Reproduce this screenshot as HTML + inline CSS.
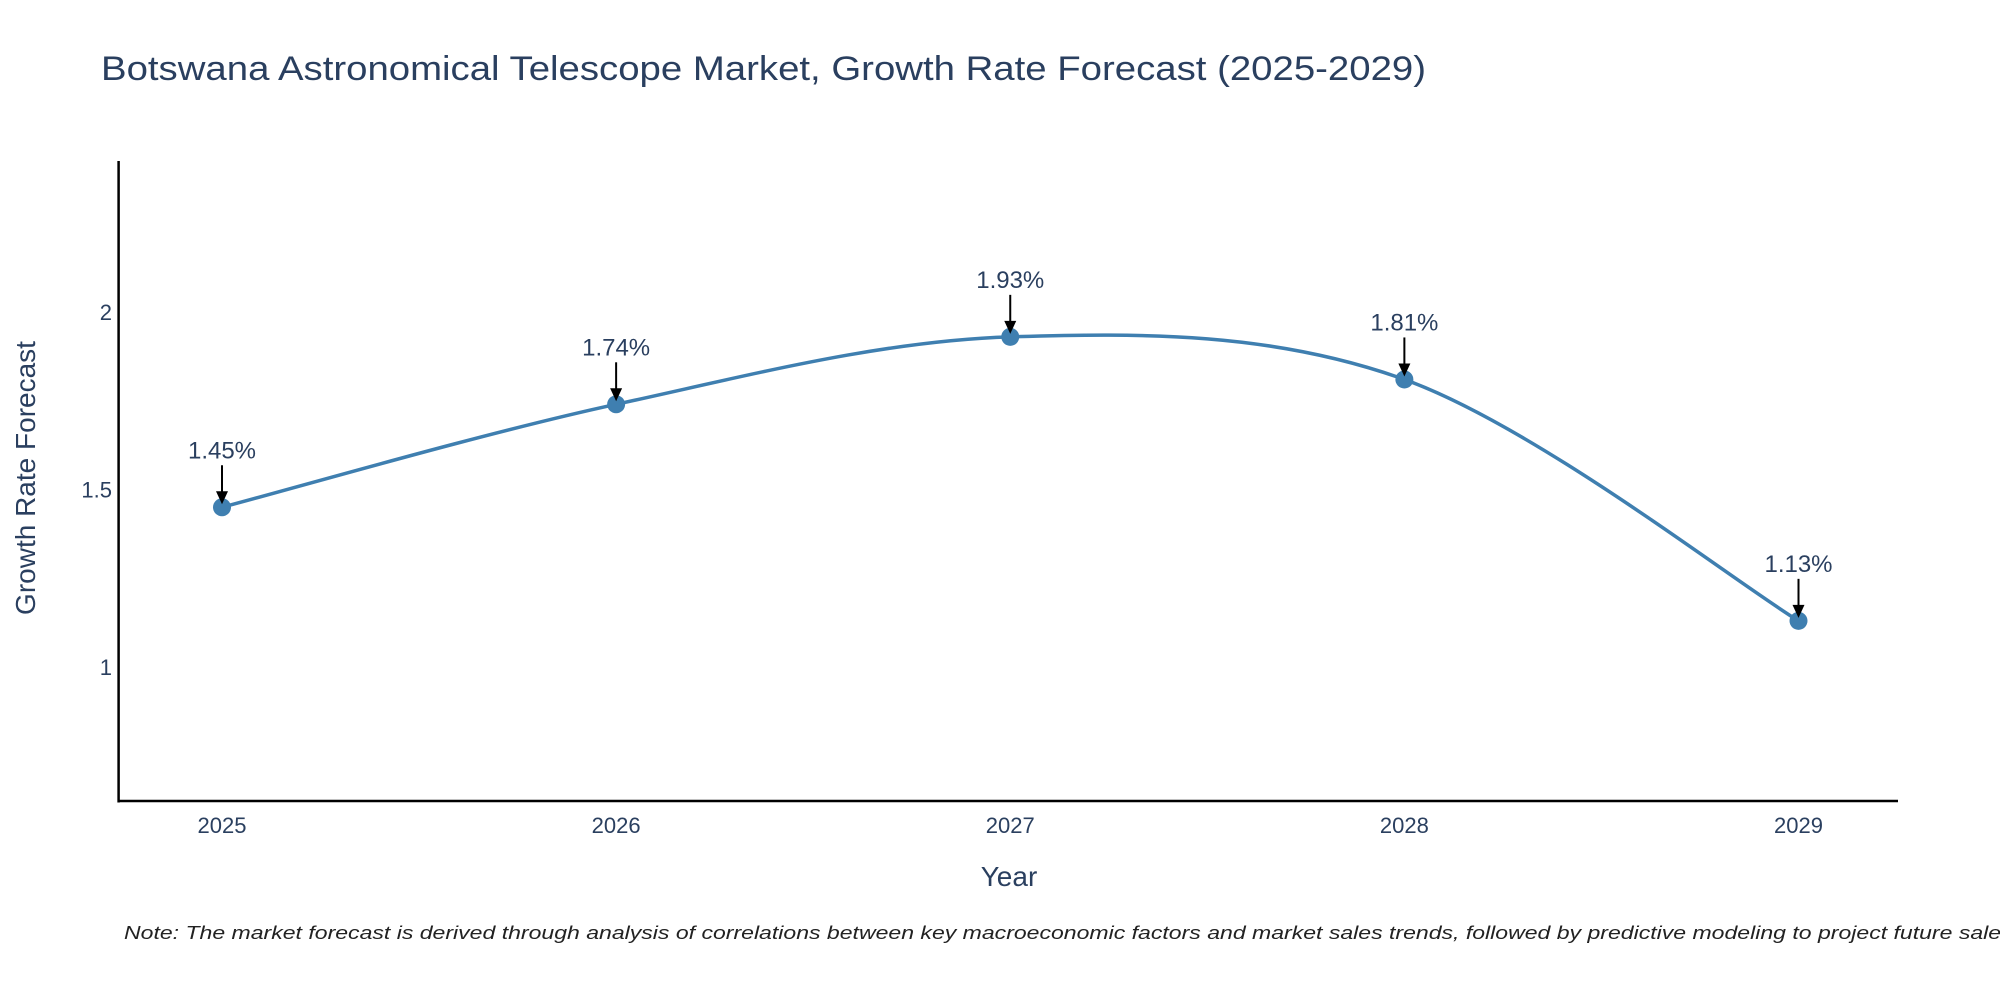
<!DOCTYPE html>
<html><head><meta charset="utf-8"><style>
html,body{margin:0;padding:0;background:#fff;}
svg{display:block;font-family:"Liberation Sans",sans-serif;}
</style></head><body>
<svg id="chart" width="2000" height="1000" viewBox="0 0 2000 1000" xmlns="http://www.w3.org/2000/svg">
<rect width="2000" height="1000" fill="#fff"/>
<text x="101" y="80" font-size="34" fill="#2a3f5f" textLength="1325" lengthAdjust="spacingAndGlyphs">Botswana Astronomical Telescope Market, Growth Rate Forecast (2025-2029)</text>
<g id="axes"></g>
<g id="series"></g>
<text transform="translate(35,478) rotate(-90)" text-anchor="middle" font-size="28" fill="#2a3f5f">Growth Rate Forecast</text>
<text x="1009" y="886" text-anchor="middle" font-size="28" fill="#2a3f5f">Year</text>
<text x="124" y="939" font-size="18" font-style="italic" fill="#222" textLength="1895" lengthAdjust="spacingAndGlyphs">Note: The market forecast is derived through analysis of correlations between key macroeconomic factors and market sales trends, followed by predictive modeling to project future sales.</text>
</svg>
<script>
const years = [2025, 2026, 2027, 2028, 2029];
const growth = [1.45, 1.74, 1.93, 1.81, 1.13];
const labels = ["1.45%", "1.74%", "1.93%", "1.81%", "1.13%"];
const yTicks = [1, 1.5, 2];

const NS = "http://www.w3.org/2000/svg";
const L = 118.6, R = 1898, T = 161, B = 801;
const yMin = 0.623, yMax = 2.427;
const xMin = 2024.74, xMax = 2029.26;
function sx(v){ return 222 + (v - 2025) * (1798.5 - 222) / 4; }
function sy(v){ return 667 - (v - 1) * 355; }
function mk(tag, attrs, parent){ const e = document.createElementNS(NS, tag); for (const k in attrs) e.setAttribute(k, attrs[k]); parent.appendChild(e); return e; }

const axes = document.getElementById('axes');
const ya = mk('line', {x1:L, y1:T, x2:L, y2:B+1.5, stroke:'#000', 'stroke-width':2.5}, axes);


const xa = mk('line', {x1:L-1, y1:B, x2:R, y2:B, stroke:'#000', 'stroke-width':2.5}, axes);


yTicks.forEach(t => {
  const tx = mk('text', {x:112, y:sy(t)+8, 'text-anchor':'end', 'font-size':22, fill:'#2a3f5f'}, axes);
  tx.textContent = String(t);
  
  
});
years.forEach(yv => {
  const tx = mk('text', {x:sx(yv), y:833, 'text-anchor':'middle', 'font-size':22, fill:'#2a3f5f'}, axes);
  tx.textContent = String(yv);
  
  
});

const ser = document.getElementById('series');
const pts = years.map((yv, i) => [sx(yv), sy(growth[i])]);
let d = `M${pts[0][0]},${pts[0][1]}`;
for (let i = 0; i < pts.length - 1; i++) {
  const p0 = pts[Math.max(i-1,0)], p1 = pts[i], p2 = pts[i+1], p3 = pts[Math.min(i+2, pts.length-1)];
  const c1 = [p1[0] + (p2[0]-p0[0])/6, p1[1] + (p2[1]-p0[1])/6];
  const c2 = [p2[0] - (p3[0]-p1[0])/6, p2[1] - (p3[1]-p1[1])/6];
  d += ` C${c1[0]},${c1[1]} ${c2[0]},${c2[1]} ${p2[0]},${p2[1]}`;
}
const line = mk('path', {d:d, fill:'none', stroke:'#3f7fb0', 'stroke-width':3.5}, ser);


pts.forEach((p, i) => {
  const c = mk('circle', {cx:p[0], cy:p[1], r:9, fill:'#3f7fb0'}, ser);
  
  
  const a = mk('line', {x1:p[0], y1:p[1]-42, x2:p[0], y2:p[1]-14, stroke:'#000', 'stroke-width':2}, ser);
  
  
  const h = mk('path', {d:`M${p[0]-6},${p[1]-16} L${p[0]+6},${p[1]-16} L${p[0]},${p[1]-3} Z`, fill:'#000'}, ser);
  
  
  const t = mk('text', {x:p[0], y:p[1]-49, 'text-anchor':'middle', 'font-size':24, fill:'#2a3f5f'}, ser);
  t.textContent = labels[i];
  
  
});
</script>
</body></html>
